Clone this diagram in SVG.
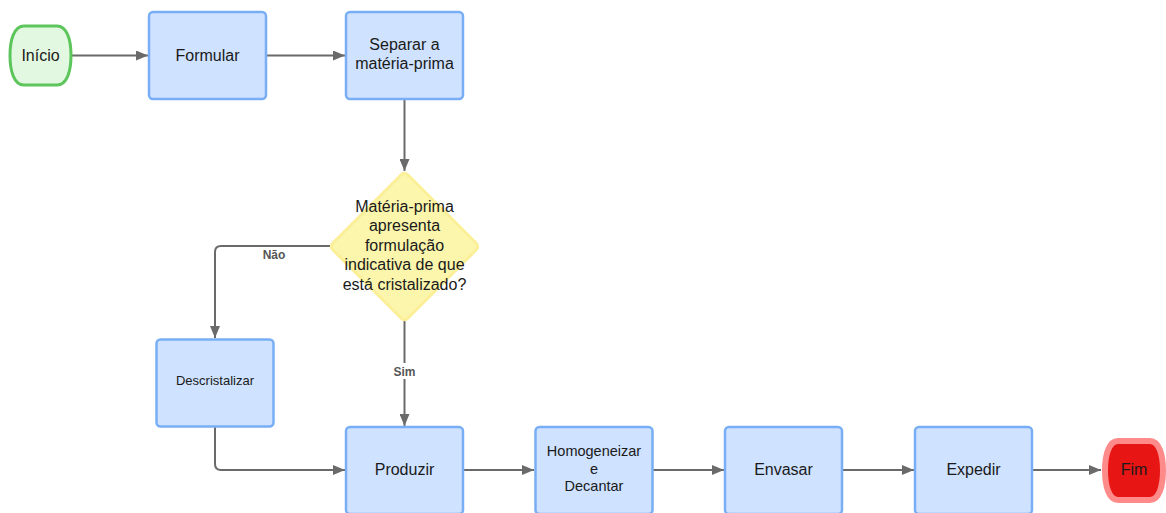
<svg xmlns="http://www.w3.org/2000/svg" width="1166" height="513" viewBox="0 0 1166 513">
  <defs>
    <marker id="arrow" viewBox="0 0 12 10" refX="12" refY="5" markerWidth="12" markerHeight="10" markerUnits="userSpaceOnUse" orient="auto">
      <path d="M0,0 L12,5 L0,10 Z" fill="#6a6a6a"/>
    </marker>
    <style>
      .proc { fill: #cfe2ff; stroke: #78aef5; stroke-width: 2.5; }
      .lbl { font-family: "Liberation Sans", Arial, sans-serif; font-size: 16px; fill: #1a1a1a; text-anchor: middle; }
      .small { font-size: 13px; }
      .mid { font-size: 14.5px; }
      .edge { fill: none; stroke: #6a6a6a; stroke-width: 2; }
      .elbl { font-family: "Liberation Sans", Arial, sans-serif; font-size: 12px; font-weight: bold; fill: #555; text-anchor: middle; }
    </style>
  </defs>

  <rect width="1166" height="513" fill="#ffffff"/>

  <!-- connectors -->
  <g id="connectors">
    <path class="edge" d="M71,55.5 H148" marker-end="url(#arrow)"/>
    <path class="edge" d="M266,55.5 H345" marker-end="url(#arrow)"/>
    <path class="edge" d="M404.5,99 V171" marker-end="url(#arrow)"/>
    <path class="edge" d="M330,246 H221 Q215,246 215,252 V338" marker-end="url(#arrow)"/>
    <path class="edge" d="M404.5,320 V426" marker-end="url(#arrow)"/>
    <path class="edge" d="M215,427 V464 Q215,470 221,470 H345" marker-end="url(#arrow)"/>
    <path class="edge" d="M463,470 H534" marker-end="url(#arrow)"/>
    <path class="edge" d="M653,470 H724" marker-end="url(#arrow)"/>
    <path class="edge" d="M842,470 H914" marker-end="url(#arrow)"/>
    <path class="edge" d="M1032,470 H1101" marker-end="url(#arrow)"/>
    <text class="elbl" x="274" y="259">Não</text>
    <rect x="390" y="363" width="29" height="16" fill="#ffffff"/>
    <text class="elbl" x="404.5" y="376">Sim</text>
  </g>

  <g id="inicio">
    <path d="M24,26 H57 C67,26 71,40 71,55.5 C71,71 67,85 57,85 H24 C14,85 10,71 10,55.5 C10,40 14,26 24,26 Z" fill="#e3f8e0" stroke="#5cc55c" stroke-width="3"/>
    <text class="lbl" x="40.5" y="61">Início</text>
  </g>

  <g id="formular">
    <rect class="proc" x="149" y="12" width="117" height="87" rx="4"/>
    <text class="lbl" x="207.5" y="61">Formular</text>
  </g>

  <g id="separar">
    <rect class="proc" x="346" y="12" width="117" height="87" rx="4"/>
    <text class="lbl" x="404.5" y="50">Separar a</text>
    <text class="lbl" x="404.5" y="69">matéria-prima</text>
  </g>

  <g id="decisao">
    <path d="M401,175 Q404.5,171.5 408,175 L476,243 Q479.5,246.5 476,250 L408,318 Q404.5,321.5 401,318 L333,250 Q329.5,246.5 333,243 Z" fill="#fcf6ad" stroke="#fbef98" stroke-width="3"/>
    <text class="lbl" x="404.5" y="212">Matéria-prima</text>
    <text class="lbl" x="404.5" y="231">apresenta</text>
    <text class="lbl" x="404.5" y="251">formulação</text>
    <text class="lbl" x="404.5" y="270">indicativa de que</text>
    <text class="lbl" x="404.5" y="290">está cristalizado?</text>
  </g>

  <g id="descristalizar">
    <rect class="proc" x="156.5" y="339.5" width="117" height="87" rx="4"/>
    <text class="lbl small" x="215" y="385">Descristalizar</text>
  </g>

  <g id="produzir">
    <rect class="proc" x="346" y="427" width="117" height="87" rx="4"/>
    <text class="lbl" x="404.5" y="475">Produzir</text>
  </g>

  <g id="homogeneizar">
    <rect class="proc" x="535.5" y="427" width="117" height="87" rx="4"/>
    <text class="lbl mid" x="594" y="456">Homogeneizar</text>
    <text class="lbl mid" x="594" y="474">e</text>
    <text class="lbl mid" x="594" y="491">Decantar</text>
  </g>

  <g id="envasar">
    <rect class="proc" x="725" y="427" width="117" height="87" rx="4"/>
    <text class="lbl" x="783.5" y="475">Envasar</text>
  </g>

  <g id="expedir">
    <rect class="proc" x="915" y="427" width="117" height="87" rx="4"/>
    <text class="lbl" x="973.5" y="475">Expedir</text>
  </g>

  <g id="fim">
    <path d="M1118,441 H1150 C1159,441 1163,455 1163,470.5 C1163,486 1159,500 1150,500 H1118 C1109,500 1105,486 1105,470.5 C1105,455 1109,441 1118,441 Z" fill="#e81515" stroke="#ff8a8a" stroke-width="6"/>
    <text class="lbl" x="1134" y="475">Fim</text>
  </g>
</svg>
